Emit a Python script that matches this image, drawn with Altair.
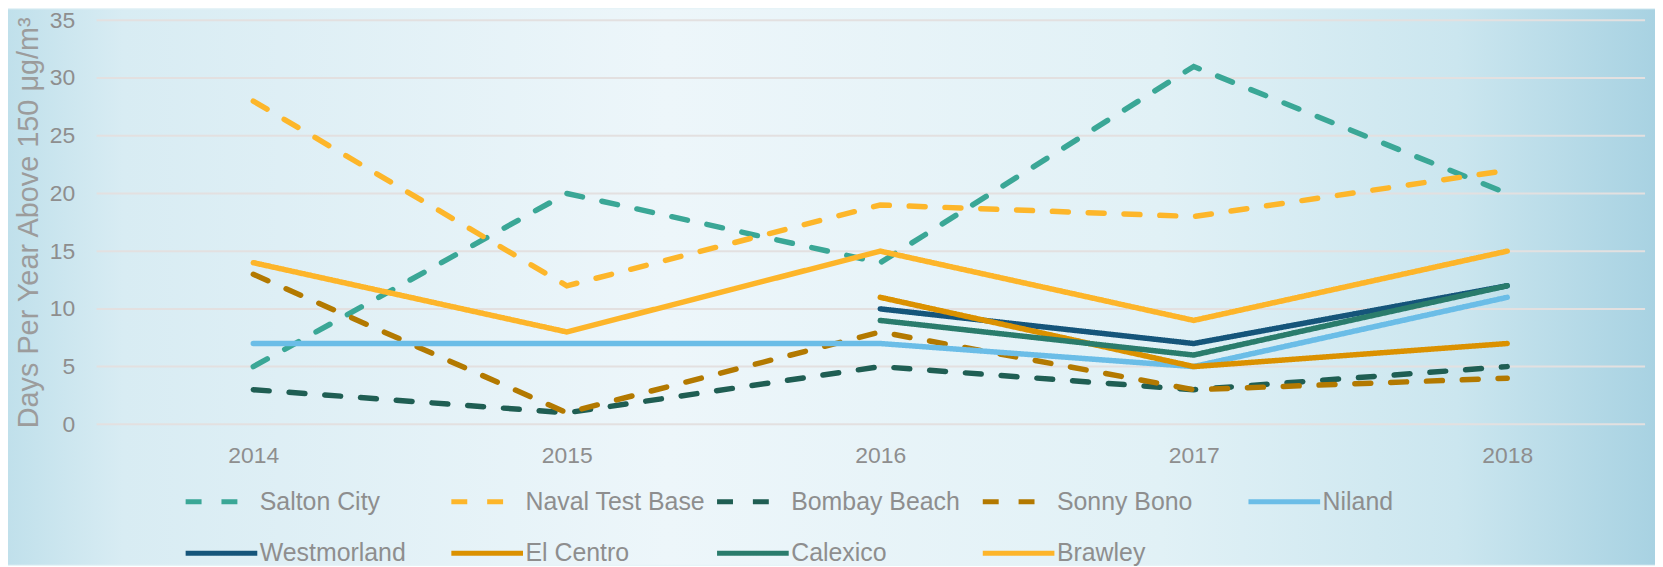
import altair as alt
import pandas as pd

years = [2014, 2015, 2016, 2017, 2018]
series_names = ["Salton City", "Naval Test Base", "Bombay Beach", "Sonny Bono", "Niland",
                "Westmorland", "El Centro", "Calexico", "Brawley"]
salton_city = [5, 20, 14, 31, 20]
naval_test_base = [28, 12, 19, 18, 22]
bombay_beach = [3, 1, 5, 3, 5]
sonny_bono = [13, 1, 8, 3, 4]
niland = [7, 7, 7, 5, 11]
westmorland = [None, None, 10, 7, 12]
el_centro = [None, None, 11, 5, 7]
calexico = [None, None, 9, 6, 12]
brawley = [14, 8, 15, 9, 15]

colors = ["#3AA796", "#FDB62A", "#1F5E53", "#B37900", "#6BBDE7",
          "#15557A", "#DB9100", "#2A7C6C", "#FDB52A"]
dashed = [True, True, True, True, False, False, False, False, False]
grid_values = [0, 5, 10, 15, 20, 25, 30, 35]

all_series = [salton_city, naval_test_base, bombay_beach, sonny_bono, niland,
              westmorland, el_centro, calexico, brawley]
rows = []
for name, vals in zip(series_names, all_series):
    for y, v in zip(years, vals):
        if v is not None:
            rows.append({"site": name, "year": y, "days": v})
df = pd.DataFrame(rows)

W, H = 1556, 406
PAD_L, PAD_T, PAD_R, PAD_B = 89, 11, 10, 141

gray = "#8E8E8E"
FONT = "Liberation Sans"

bg = alt.Chart(alt.Data(values=[{}])).mark_rect(
    fill=alt.Gradient(
        gradient="linear", x1=0, x2=1, y1=0, y2=0,
        stops=[
            alt.GradientStop(offset=0, color="#C0E0EB"),
            alt.GradientStop(offset=0.07, color="#D8ECF3"),
            alt.GradientStop(offset=0.4, color="#EDF6FA"),
            alt.GradientStop(offset=0.7, color="#E1F1F6"),
            alt.GradientStop(offset=0.88, color="#CBE6EF"),
            alt.GradientStop(offset=1, color="#A8D2E2"),
        ],
    )
).encode(
    x=alt.value(-PAD_L), x2=alt.value(W + PAD_R),
    y=alt.value(-PAD_T), y2=alt.value(H + PAD_B),
)

grid = alt.Chart(pd.DataFrame({"g": grid_values})).mark_rule(
    color="#E3E0E0", strokeWidth=2
).encode(
    y=alt.Y("g:Q", scale=alt.Scale(domain=[0, 35], nice=False)),
    x=alt.value(0), x2=alt.value(W),
)

lines = alt.Chart(df).mark_line(strokeWidth=5.5, strokeCap="round").encode(
    x=alt.X("year:Q",
            scale=alt.Scale(domain=[2013.5, 2013.5 + W / 315], nice=False, zero=False),
            axis=alt.Axis(values=years, format="d", title=None, grid=False, domain=False,
                          ticks=False, labelFontSize=23, labelColor=gray, labelPadding=20,
                          labelFont=FONT, zindex=2)),
    y=alt.Y("days:Q",
            scale=alt.Scale(domain=[0, 35], nice=False),
            axis=alt.Axis(values=grid_values, grid=False, domain=False, ticks=False,
                          labelFontSize=23, labelColor=gray, labelPadding=22, labelFont=FONT,
                          title="Days Per Year Above 150 μg/m³", titleFontSize=29,
                          titleColor="#9C9C9C", titleFontWeight="normal", titleFont=FONT,
                          titlePadding=6, zindex=2)),
    color=alt.Color("site:N",
                    scale=alt.Scale(domain=series_names, range=colors),
                    legend=alt.Legend(orient="none", legendX=87, legendY=445,
                                      direction="horizontal", columns=5, title=None,
                                      symbolType="stroke", symbolSize=5184,
                                      symbolStrokeWidth=5, labelFontSize=25,
                                      labelColor=gray, labelFont=FONT, labelLimit=400,
                                      gridAlign="all", columnPadding=1, rowPadding=-30,
                                      labelOffset=0, zindex=2)),
    strokeDash=alt.StrokeDash("site:N",
                              scale=alt.Scale(domain=series_names,
                                              range=[[16, 20] if d else [1, 0] for d in dashed]),
                              legend=None),
    order=alt.Order("year:Q"),
)

chart = alt.layer(bg, grid, lines).properties(
    width=W, height=H,
    autosize=alt.AutoSizeParams(type="none"),
    padding={"left": PAD_L, "top": PAD_T, "right": PAD_R, "bottom": PAD_B},
    background="#E6F3F7",
).configure_view(stroke=None)

chart.save("out.html", embed_options={"renderer": "svg", "actions": False})
